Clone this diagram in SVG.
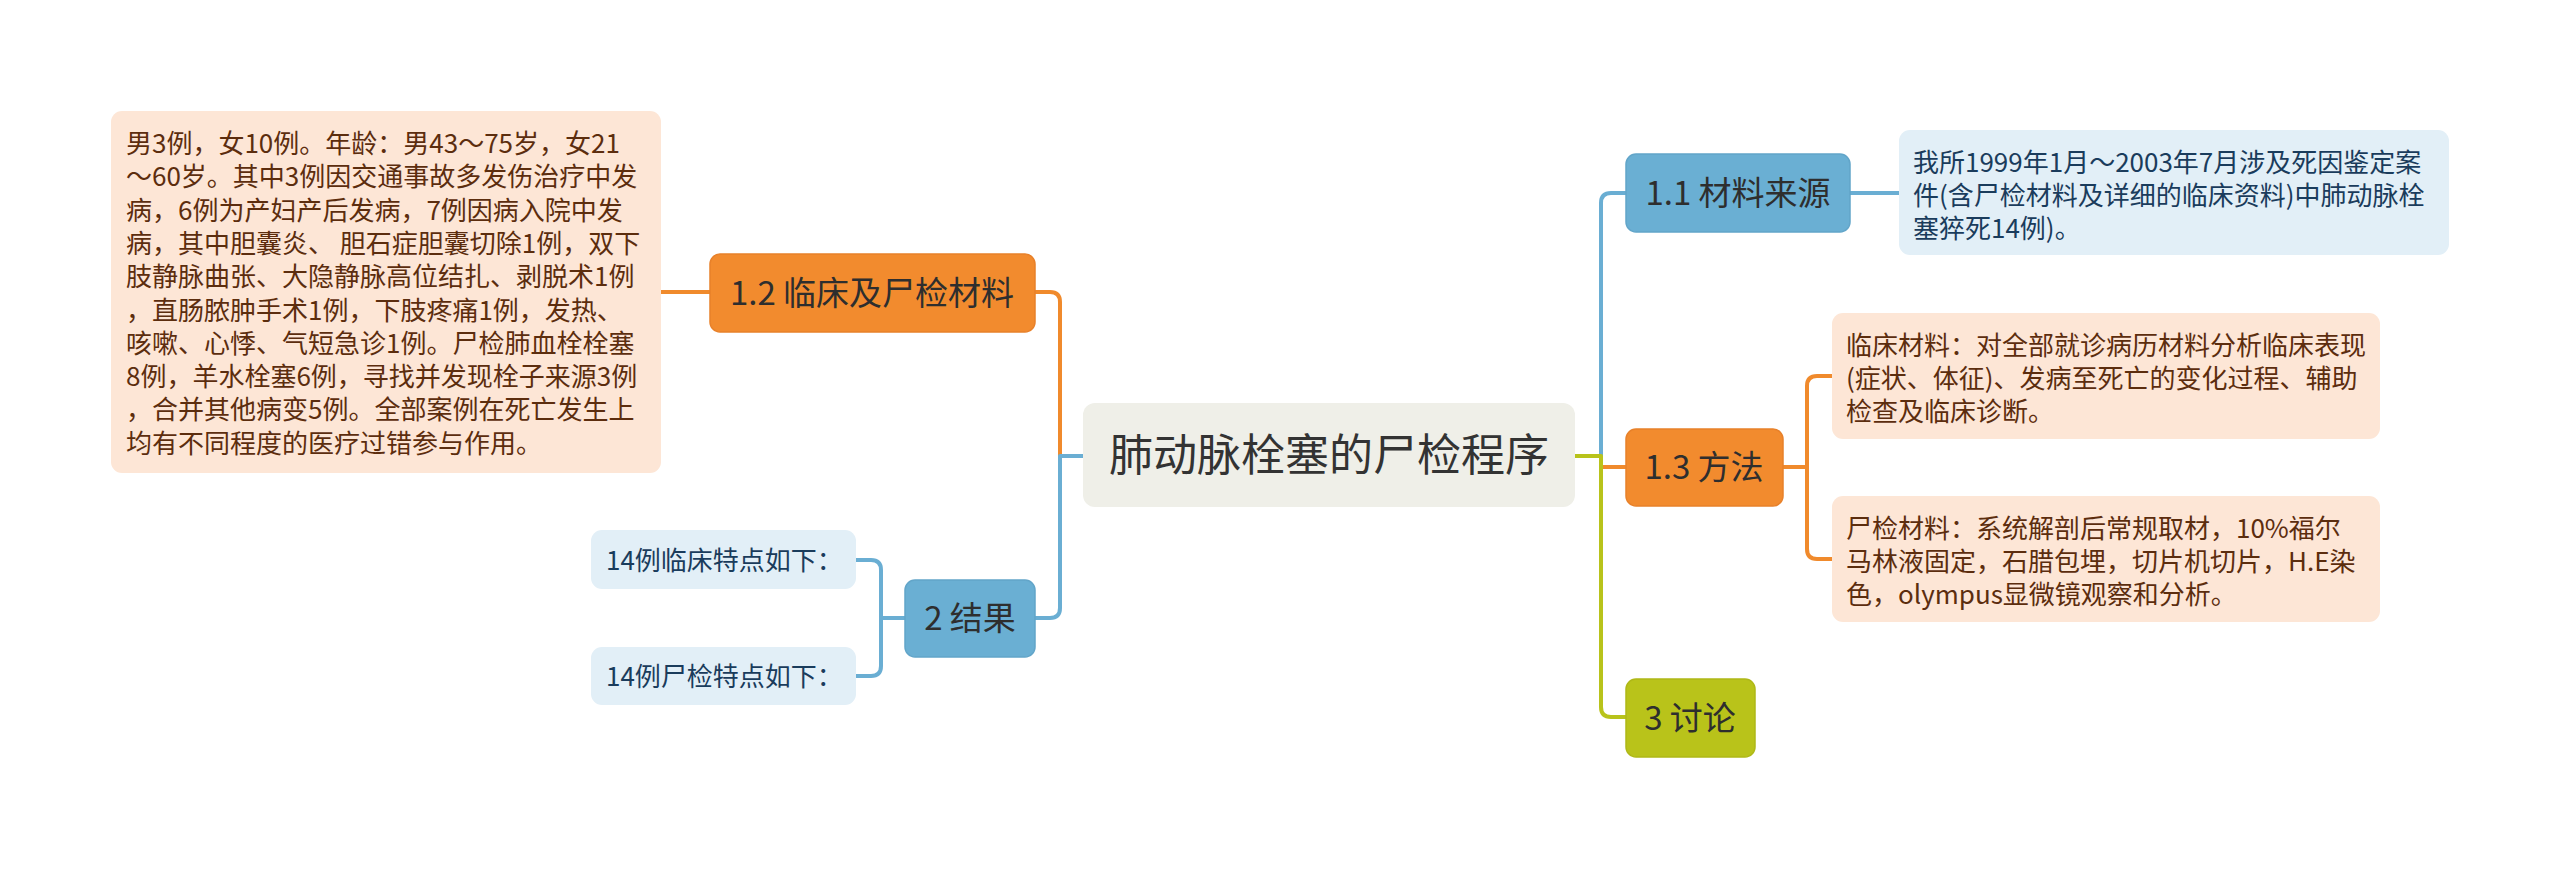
<svg xmlns="http://www.w3.org/2000/svg" width="2560" height="869" viewBox="0 0 2560 869">
<style>
  text { font-family: "Noto Sans CJK SC", "Noto Sans", sans-serif; }
  .con { fill: none; stroke-width: 4; stroke-linejoin: round; stroke-linecap: butt; }
  .c-or { stroke: #f08a2c; }
  .c-bl { stroke: #6aaed3; }
  .c-gr { stroke: #b8c31b; }
  .n-center { fill: #efefe8; }
  .n-or { fill: #f28b2e; stroke: #e8812a; stroke-width: 1.5; }
  .n-bl { fill: #6aafd3; stroke: #62a5c9; stroke-width: 1.5; }
  .n-gr { fill: #b9c31a; stroke: #afb817; stroke-width: 1.5; }
  .l-or { fill: #fde6d6; }
  .l-bl { fill: #e2eff7; }
  .t-center { font-size: 44px; fill: #333333; text-anchor: middle; }
  .t-node { font-size: 33px; fill: #2e2e2e; text-anchor: middle; }
  .t-lor { font-size: 26px; fill: #5c2d0e; }
  .t-lbl { font-size: 26px; fill: #1a3c5c; }
</style>
<rect width="2560" height="869" fill="#ffffff"/>

<g id="connectors">
  <path class="con c-or" d="M661,292 H710"/>
  <path class="con c-or" d="M1083,456 H1060 V302 Q1060,292 1050,292 H1035"/>
  <path class="con c-bl" d="M1083,456 H1060 V608 Q1060,618 1050,618 H1035"/>
  <path class="con c-bl" d="M905,618 H881"/>
  <path class="con c-bl" d="M881,618 V570 Q881,560 871,560 H856"/>
  <path class="con c-bl" d="M881,618 V666 Q881,676 871,676 H856"/>
  <path class="con c-or" d="M1575,456 H1601 V467 H1626"/>
  <path class="con c-bl" d="M1575,456 H1601 V203 Q1601,193 1611,193 H1626"/>
  <path class="con c-gr" d="M1575,456 H1601 V707 Q1601,717 1611,717 H1626"/>
  <path class="con c-bl" d="M1850,193 H1899"/>
  <path class="con c-or" d="M1783,467 H1807"/>
  <path class="con c-or" d="M1807,467 V386 Q1807,376 1817,376 H1832"/>
  <path class="con c-or" d="M1807,467 V549 Q1807,559 1817,559 H1832"/>
</g>

<g id="center">
  <rect class="n-center" x="1083" y="403" width="492" height="104" rx="12"/>
  <text class="t-center" x="1329" y="471">肺动脉栓塞的尸检程序</text>
</g>

<g id="n12">
  <rect class="n-or" x="710" y="254" width="325" height="78" rx="10"/>
  <text class="t-node" x="872" y="305">1.2 临床及尸检材料</text>
</g>

<g id="n12-desc">
  <rect class="l-or" x="111" y="111" width="550" height="362" rx="11"/>
  <text class="t-lor" x="126">
    <tspan x="126" y="153">男3例，女10例。年龄：男43～75岁，女21</tspan>
    <tspan x="126" y="186.3">～60岁。其中3例因交通事故多发伤治疗中发</tspan>
    <tspan x="126" y="219.6">病，6例为产妇产后发病，7例因病入院中发</tspan>
    <tspan x="126" y="252.9">病，其中胆囊炎、 胆石症胆囊切除1例，双下</tspan>
    <tspan x="126" y="286.2">肢静脉曲张、大隐静脉高位结扎、剥脱术1例</tspan>
    <tspan x="126" y="319.5">，直肠脓肿手术1例，下肢疼痛1例，发热、</tspan>
    <tspan x="126" y="352.8">咳嗽、心悸、气短急诊1例。尸检肺血栓栓塞</tspan>
    <tspan x="126" y="386.1">8例，羊水栓塞6例，寻找并发现栓子来源3例</tspan>
    <tspan x="126" y="419.4">，合并其他病变5例。全部案例在死亡发生上</tspan>
    <tspan x="126" y="452.7">均有不同程度的医疗过错参与作用。</tspan>
  </text>
</g>

<g id="n2">
  <rect class="n-bl" x="905" y="580" width="130" height="77" rx="10"/>
  <text class="t-node" x="970" y="630">2 结果</text>
</g>

<g id="n2-a">
  <rect class="l-bl" x="591" y="530" width="265" height="59" rx="11"/>
  <text class="t-lbl" x="606" y="570">14例临床特点如下：</text>
</g>

<g id="n2-b">
  <rect class="l-bl" x="591" y="647" width="265" height="58" rx="11"/>
  <text class="t-lbl" x="606" y="686">14例尸检特点如下：</text>
</g>

<g id="n11">
  <rect class="n-bl" x="1626" y="154" width="224" height="78" rx="10"/>
  <text class="t-node" x="1738" y="205">1.1 材料来源</text>
</g>

<g id="n11-desc">
  <rect class="l-bl" x="1899" y="130" width="550" height="125" rx="11"/>
  <text class="t-lbl">
    <tspan x="1913" y="172">我所1999年1月～2003年7月涉及死因鉴定案</tspan>
    <tspan x="1913" y="205">件(含尸检材料及详细的临床资料)中肺动脉栓</tspan>
    <tspan x="1913" y="238">塞猝死14例)。</tspan>
  </text>
</g>

<g id="n13">
  <rect class="n-or" x="1626" y="429" width="157" height="77" rx="10"/>
  <text class="t-node" x="1704" y="479">1.3 方法</text>
</g>

<g id="n13-a">
  <rect class="l-or" x="1832" y="313" width="548" height="126" rx="11"/>
  <text class="t-lor">
    <tspan x="1846" y="355">临床材料：对全部就诊病历材料分析临床表现</tspan>
    <tspan x="1846" y="388">(症状、体征)、发病至死亡的变化过程、辅助</tspan>
    <tspan x="1846" y="421">检查及临床诊断。</tspan>
  </text>
</g>

<g id="n13-b">
  <rect class="l-or" x="1832" y="496" width="548" height="126" rx="11"/>
  <text class="t-lor">
    <tspan x="1846" y="538">尸检材料：系统解剖后常规取材，10%福尔</tspan>
    <tspan x="1846" y="571">马林液固定，石腊包埋，切片机切片，H.E染</tspan>
    <tspan x="1846" y="604">色，olympus显微镜观察和分析。</tspan>
  </text>
</g>

<g id="n3">
  <rect class="n-gr" x="1626" y="679" width="129" height="78" rx="10"/>
  <text class="t-node" x="1690" y="730">3 讨论</text>
</g>
</svg>
